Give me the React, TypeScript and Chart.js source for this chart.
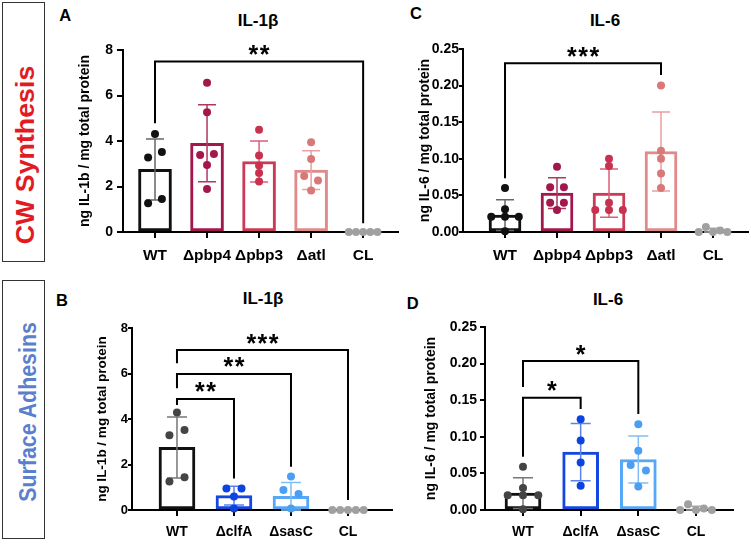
import React, { useEffect, useRef } from 'react';
import { Chart, registerables } from 'chart.js';

Chart.register(...registerables);

const FONT = "'Liberation Sans', Arial, Helvetica, sans-serif";

// ---------- categories ----------
const catsCW = ['WT', 'Δpbp4', 'Δpbp3', 'Δatl', 'CL'];
const catsSA = ['WT', 'ΔclfA', 'ΔsasC', 'CL'];

// ---------- Panel A: IL-1β, cell-wall synthesis ----------
const aMeans = [2.75, 3.9, 3.1, 2.72, 0];
const aSD = [1.34, 1.69, 0.9, 0.85, 0];
const aPoints = [
  [4.31, 3.27, 3.52, 1.26, 1.45],
  [6.56, 5.26, 3.38, 3.43, 2.94, 1.89],
  [4.49, 3.36, 2.92, 2.59, 2.22],
  [3.94, 3.21, 2.46, 2.26, 1.82],
  [0, 0, 0, 0, 0],
];

// ---------- Panel C: IL-6, cell-wall synthesis ----------
const cMeans = [0.023, 0.053, 0.053, 0.11, 0.002];
const cSD = [0.021, 0.021, 0.033, 0.054, 0.003];
const cPoints = [
  [0.06, 0.031, 0.021, 0.021, 0.021, 0.001],
  [0.089, 0.061, 0.061, 0.04, 0.04, 0.03],
  [0.1, 0.09, 0.04, 0.03, 0.03, 0.03],
  [0.2, 0.111, 0.1, 0.08, 0.06],
  [0, 0.007, 0, 0.002, 0],
];

// ---------- Panel B: IL-1β, surface adhesins ----------
const bMeans = [2.75, 0.63, 0.6, 0];
const bSD = [1.34, 0.41, 0.61, 0];
const bPoints = [
  [4.29, 3.29, 3.52, 1.25, 1.44],
  [0.95, 0.95, 0.59, 0.07],
  [1.47, 0.88, 0.7, 0.07],
  [0, 0, 0, 0, 0],
];

// ---------- Panel D: IL-6, surface adhesins ----------
const dMeans = [0.023, 0.079, 0.069, 0.002];
const dSD = [0.021, 0.039, 0.032, 0.003];
const dPoints = [
  [0.059, 0.03, 0.02, 0.02, 0.02, 0.001],
  [0.124, 0.095, 0.065, 0.033],
  [0.117, 0.081, 0.0615, 0.054, 0.032],
  [0, 0.008, 0, 0.002, 0],
];

// ---------- significance brackets: [from, to, bracket level, left leg end, right leg end, label] ----------
type Bracket = [number, number, number, number, number, string];
const aBrackets: Bracket[] = [[0, 4, 7.49, 4.78, 0.38, '**']];
const cBrackets: Bracket[] = [[0, 3, 0.2305, 0.0733, 0.2145, '***']];
const bBrackets: Bracket[] = [
  [0, 1, 4.88, 4.62, 1.39, '**'],
  [0, 2, 5.98, 5.35, 1.9, '**'],
  [0, 3, 7.03, 6.45, 0.44, '***'],
];
const dBrackets: Bracket[] = [
  [0, 1, 0.1534, 0.0728, 0.138, '*'],
  [0, 2, 0.2035, 0.168, 0.131, '*'],
];

// ---------- colours ----------
const cwBar = ['#111111', '#a3184c', '#cc3a57', '#e08a8a', '#a0a0a0'];
const cwDot = ['#111111', '#a3184c', '#c8324f', '#d87878', '#a0a0a0'];
const cwErr = ['#666666', '#b0385f', '#d8607a', '#e8a0a0', '#aaaaaa'];
const saBar = ['#111111', '#1446e0', '#56a8f6', '#a0a0a0'];
const saDot = ['#444444', '#0c44e0', '#4a9ff2', '#a0a0a0'];
const saErr = ['#777777', '#5b82ee', '#82bdf5', '#aaaaaa'];

// horizontal spreading of overlapping dots (in category units)
function spread(vals: number[], range: number): number[] {
  const thr = range * 0.035;
  const order = vals.map((_, i) => i).sort((a, b) => vals[b] - vals[a]);
  const groups: number[][] = [];
  let cur: number[] = [];
  order.forEach((i, k) => {
    if (k > 0 && vals[order[k - 1]] - vals[i] >= thr) {
      groups.push(cur);
      cur = [];
    }
    cur.push(i);
  });
  if (cur.length) groups.push(cur);
  const off = vals.map(() => 0);
  groups.forEach((g) => {
    g.sort((a, b) => a - b);
    const n = g.length;
    if (n < 2) return;
    const step = Math.min(0.265, 0.55 / (n - 1));
    g.forEach((i, k) => {
      off[i] = (k - (n - 1) / 2) * step;
    });
  });
  return off;
}

interface PanelProps {
  cats: string[];
  means: number[];
  sds: number[];
  points: number[][];
  barColors: string[];
  dotColors: string[];
  errColors: string[];
  brackets: Bracket[];
  yMax: number;
  yStep: number;
  decimals: number;
  yTitle: string;
  xMin: number;
  xMax: number;
  left: number;
  top: number;
  width: number;
  height: number;
  yW: number;
  xH: number;
  padTop: number;
  padRight: number;
  barThickness: number;
  cap: number;
  catFont: number;
  tickFont: number;
  titleFont: number;
  yTickLen: number;
  yTickPad: number;
}

function Panel(p: PanelProps) {
  const ref = useRef<HTMLCanvasElement | null>(null);
  useEffect(() => {
    if (!ref.current) return;
    const pts: { x: number; y: number }[] = [];
    const ptColors: string[] = [];
    p.points.forEach((vals, ci) => {
      const off = spread(vals, p.yMax);
      vals.forEach((v, k) => {
        pts.push({ x: ci + off[k], y: v });
        ptColors.push(p.dotColors[ci]);
      });
    });
    const overlay = {
      id: 'overlay',
      afterDatasetDraw(chart: any, args: any) {
        if (args.meta.type !== 'bar') return;
        const { ctx } = chart;
        const xs = chart.scales.x;
        const ys = chart.scales.y;
        ctx.save();
        p.means.forEach((m, i) => {
          const s = p.sds[i];
          if (!s) return;
          const px = xs.getPixelForValue(i);
          const t = ys.getPixelForValue(m + s);
          const b = ys.getPixelForValue(Math.max(0, m - s));
          ctx.strokeStyle = p.errColors[i];
          ctx.lineWidth = 1.5;
          ctx.beginPath();
          ctx.moveTo(px, t);
          ctx.lineTo(px, b);
          ctx.moveTo(px - p.cap / 2, t);
          ctx.lineTo(px + p.cap / 2, t);
          ctx.moveTo(px - p.cap / 2, b);
          ctx.lineTo(px + p.cap / 2, b);
          ctx.stroke();
        });
        ctx.restore();
      },
      afterDraw(chart: any) {
        const { ctx } = chart;
        const xs = chart.scales.x;
        const ys = chart.scales.y;
        ctx.save();
        p.brackets.forEach(([from, to, lvl, le, re, label]) => {
          const x1 = xs.getPixelForValue(from);
          const x2 = xs.getPixelForValue(to);
          const yb = ys.getPixelForValue(lvl);
          ctx.strokeStyle = '#000';
          ctx.lineWidth = 2;
          ctx.lineJoin = 'miter';
          ctx.beginPath();
          ctx.moveTo(x1, ys.getPixelForValue(le));
          ctx.lineTo(x1, yb);
          ctx.lineTo(x2, yb);
          ctx.lineTo(x2, ys.getPixelForValue(re));
          ctx.stroke();
          ctx.fillStyle = '#000';
          ctx.font = `bold 25px ${FONT}`;
          (ctx as any).letterSpacing = '1.5px';
          ctx.textAlign = 'center';
          ctx.textBaseline = 'alphabetic';
          ctx.fillText(label, (x1 + x2) / 2 + 0.75, yb + 1.5);
        });
        ctx.restore();
      },
    };
    const nTicks = Math.round(p.yMax / p.yStep);
    const chart = new Chart(ref.current, {
      type: 'bar',
      data: {
        datasets: [
          {
            type: 'scatter',
            data: pts,
            pointRadius: 4,
            pointHoverRadius: 4,
            pointBackgroundColor: ptColors,
            pointBorderWidth: 0,
            clip: false,
            order: 1,
          } as any,
          {
            type: 'bar',
            data: p.means.map((m, i) => ({ x: i, y: m })),
            backgroundColor: '#ffffff',
            borderColor: p.barColors,
            borderWidth: 3,
            borderSkipped: false,
            barThickness: p.barThickness,
            order: 2,
          } as any,
        ],
      },
      options: {
        animation: false,
        responsive: false,
        events: [],
        layout: {
          padding: { top: p.padTop, right: p.padRight, left: 0, bottom: 0 },
          autoPadding: false,
        } as any,
        plugins: { legend: { display: false }, tooltip: { enabled: false } },
        scales: {
          x: {
            type: 'linear',
            min: p.xMin,
            max: p.xMax,
            offset: false,
            afterBuildTicks: (ax: any) => {
              ax.ticks = p.cats.map((_, i) => ({ value: i }));
            },
            afterFit: (ax: any) => {
              ax.height = p.xH;
            },
            ticks: {
              autoSkip: false,
              maxRotation: 0,
              minRotation: 0,
              padding: 8,
              color: '#000',
              font: { family: FONT, size: p.catFont, weight: 'bold' },
              callback: (v: any) => p.cats[Math.round(Number(v))] ?? '',
            },
            grid: { drawOnChartArea: false, drawTicks: true, tickLength: 6, color: '#000', lineWidth: 2, offset: false },
            border: { display: true, color: '#000', width: 2 },
          } as any,
          y: {
            type: 'linear',
            min: 0,
            max: p.yMax,
            afterBuildTicks: (ax: any) => {
              const t = [];
              for (let k = 0; k <= nTicks; k++) t.push({ value: k * p.yStep });
              ax.ticks = t;
            },
            afterFit: (ax: any) => {
              ax.width = p.yW;
            },
            ticks: {
              padding: p.yTickPad,
              color: '#000',
              font: { family: FONT, size: p.tickFont, weight: 'bold' },
              callback: (v: any) => Number(v).toFixed(p.decimals),
            },
            grid: { drawOnChartArea: false, drawTicks: true, tickLength: p.yTickLen, color: '#000', lineWidth: 2 },
            border: { display: true, color: '#000', width: 2 },
            title: {
              display: true,
              text: p.yTitle,
              color: '#000',
              font: { family: FONT, size: p.titleFont, weight: 'bold' },
              padding: 0,
            },
          } as any,
        },
      },
      plugins: [overlay as any],
    });
    return () => chart.destroy();
  }, []);
  return (
    <canvas
      ref={ref}
      width={p.width}
      height={p.height}
      style={{ position: 'absolute', left: p.left, top: p.top, width: p.width, height: p.height }}
    />
  );
}

function Label(props: { text: string; size: number; baseline: number; x: number; center?: boolean; color?: string }) {
  const { text, size, baseline, x, center, color } = props;
  return (
    <div
      style={{
        position: 'absolute',
        left: x,
        top: baseline - size * 0.8465,
        fontFamily: FONT,
        fontWeight: 'bold',
        fontSize: size,
        lineHeight: `${size}px`,
        whiteSpace: 'nowrap',
        color: color || '#000',
        transform: center ? 'translateX(-50%)' : undefined,
      }}
    >
      {text}
    </div>
  );
}

function SideLabel(props: { text: string; cx: number; cy: number; color: string; size: number; squeeze: number }) {
  const { text, cx, cy, color, size, squeeze } = props;
  return (
    <div
      style={{
        position: 'absolute',
        left: cx,
        top: cy,
        fontFamily: FONT,
        fontWeight: 'bold',
        fontSize: size,
        lineHeight: `${size}px`,
        whiteSpace: 'nowrap',
        color,
        transform: `translate(-50%, -50%) rotate(-90deg) scaleX(${squeeze})`,
      }}
    >
      {text}
    </div>
  );
}

export default function App() {
  return (
    <div style={{ position: 'absolute', left: 0, top: 0, width: 751, height: 544, background: '#fff', overflow: 'hidden' }}>
      <div style={{ position: 'absolute', left: 2, top: 2, width: 43, height: 260, border: '1.5px solid #333', boxSizing: 'border-box' }} />
      <div style={{ position: 'absolute', left: 2, top: 280, width: 43, height: 259, border: '1.5px solid #333', boxSizing: 'border-box' }} />
      <SideLabel text="CW Synthesis" cx={25} cy={155} color="#e21b23" size={26} squeeze={1.03} />
      <SideLabel text="Surface Adhesins" cx={28} cy={412} color="#5b7fcf" size={24} squeeze={0.89} />

      <Label text="A" size={16.5} baseline={20.7} x={59.3} />
      <Label text="C" size={16.5} baseline={19.3} x={410} />
      <Label text="B" size={16.5} baseline={306.3} x={56} />
      <Label text="D" size={16.5} baseline={308.7} x={406.7} />

      <Label text="IL-1β" size={17} baseline={26.7} x={258} center />
      <Label text="IL-6" size={17} baseline={26.7} x={605} center />
      <Label text="IL-1β" size={17} baseline={304.3} x={263} center />
      <Label text="IL-6" size={17} baseline={305.3} x={608} center />

      <Panel
        cats={catsCW} means={aMeans} sds={aSD} points={aPoints}
        barColors={cwBar} dotColors={cwDot} errColors={cwErr} brackets={aBrackets}
        yMax={8} yStep={2} decimals={0} yTitle="ng IL-1b / mg total protein"
        xMin={-0.615} xMax={4.67}
        left={77} top={20} width={331} height={252} yW={46} xH={40} padTop={30} padRight={10}
        barThickness={33} cap={18} catFont={15.5} tickFont={14} titleFont={14} yTickLen={6} yTickPad={4}
      />
      <Panel
        cats={catsCW} means={cMeans} sds={cSD} points={cPoints}
        barColors={cwBar} dotColors={cwDot} errColors={cwErr} brackets={cBrackets}
        yMax={0.25} yStep={0.05} decimals={2} yTitle="ng IL-6 / mg total protein"
        xMin={-0.808} xMax={4.673}
        left={417} top={20} width={334} height={252} yW={46} xH={40} padTop={29} padRight={3}
        barThickness={32} cap={18} catFont={15.5} tickFont={14} titleFont={14} yTickLen={4} yTickPad={0}
      />
      <Panel
        cats={catsSA} means={bMeans} sds={bSD} points={bPoints}
        barColors={saBar} dotColors={saDot} errColors={saErr} brackets={bBrackets}
        yMax={8} yStep={2} decimals={0} yTitle="ng IL-1b / mg total protein"
        xMin={-0.789} xMax={3.772}
        left={94} top={280} width={308} height={264} yW={38} xH={34} padTop={48} padRight={10}
        barThickness={36} cap={20} catFont={14} tickFont={13} titleFont={13.5} yTickLen={4} yTickPad={0}
      />
      <Panel
        cats={catsSA} means={dMeans} sds={dSD} points={dPoints}
        barColors={saBar} dotColors={saDot} errColors={saErr} brackets={dBrackets}
        yMax={0.25} yStep={0.05} decimals={2} yTitle="ng IL-6 / mg total protein"
        xMin={-0.659} xMax={3.642}
        left={423} top={280} width={320} height={264} yW={62} xH={34} padTop={47} padRight={10}
        barThickness={36} cap={20} catFont={14} tickFont={14} titleFont={14} yTickLen={5} yTickPad={3}
      />
    </div>
  );
}
